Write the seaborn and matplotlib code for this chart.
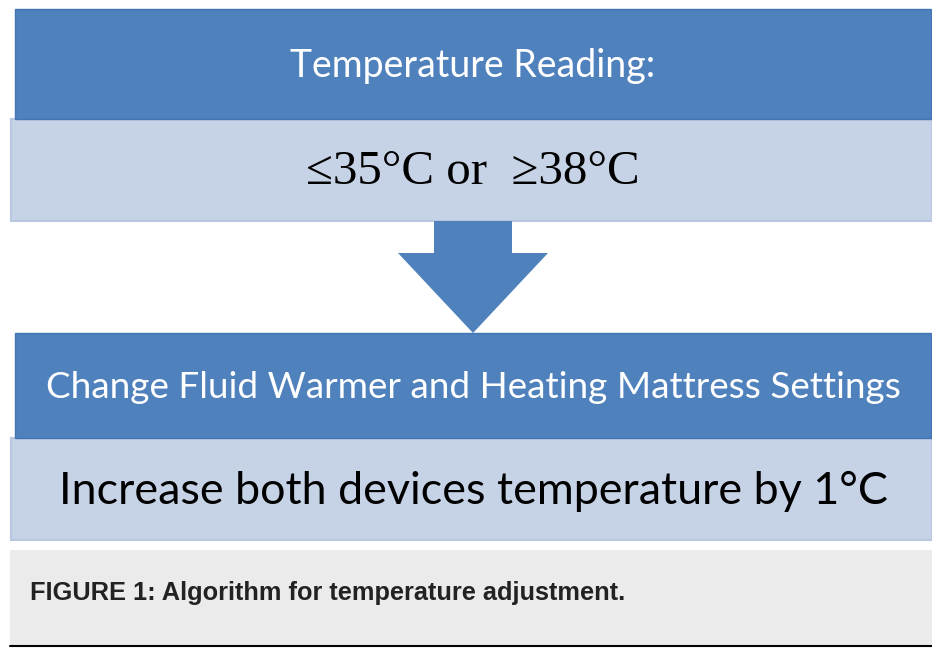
import matplotlib
matplotlib.use("Agg")
import matplotlib.pyplot as plt
import seaborn as sns
from matplotlib.patches import Rectangle, Polygon

sns.set_theme(style="white")

# Text content
header_texts = ["Temperature Reading:", "Change Fluid Warmer and Heating Mattress Settings"]
body_texts = ["\u226435\u00b0C or  \u226538\u00b0C", "Increase both devices temperature by 1\u00b0C"]
caption = "FIGURE 1: Algorithm for temperature adjustment."

DARK = "#4f81bd"
DARK_EDGE = "#4475b3"
LIGHT = "#c6d2e5"
LIGHT_EDGE = "#b9c7df"
CAPTION_BG = "#ebebeb"

W, H = 932, 648
fig = plt.figure(figsize=(W / 100, H / 100), dpi=100)
ax = fig.add_axes([0, 0, 1, 1])
ax.set_xlim(0, W)
ax.set_ylim(H, 0)
ax.axis("off")

# Blocks: (header y0, y1), (body y0, y1)
blocks = [((9, 119), (119, 221)), ((333, 438), (438, 540))]
header_sizes = [27, 26.6]
body_fonts = [("Liberation Serif", 35.3), ("Lato", 32.3)]

for i, ((hy0, hy1), (by0, by1)) in enumerate(blocks):
    ax.add_patch(Rectangle((11, by0), 921, by1 - by0, facecolor=LIGHT,
                           edgecolor=LIGHT_EDGE, lw=1.5, zorder=1))
    ax.add_patch(Rectangle((15, hy0), 916, hy1 - hy0, facecolor=DARK,
                           edgecolor=DARK_EDGE, lw=1, zorder=2))
    ax.text(473, (hy0 + hy1) / 2 + 2, header_texts[i], color="white",
            fontsize=header_sizes[i], family="Lato", ha="center", va="center", zorder=3)
    fam, fs = body_fonts[i]
    ax.text(473, (by0 + by1) / 2 + 2.5, body_texts[i], color="black",
            fontsize=fs, family=fam, ha="center", va="center", zorder=3)

# Arrow
arrow = [(434, 221), (512, 221), (512, 253), (548, 253), (473, 333),
         (398, 253), (434, 253)]
ax.add_patch(Polygon(arrow, closed=True, facecolor=DARK, edgecolor="none", zorder=2))

# Caption panel
ax.add_patch(Rectangle((10, 550), 922, 96, facecolor=CAPTION_BG, edgecolor="none", zorder=1))
ax.plot([10, 932], [646, 646], color="black", lw=1.5, zorder=2)
ax.text(30, 593, caption, color="#222222", fontsize=18.3, family="Liberation Sans",
        fontweight="bold", ha="left", va="center", zorder=3)

fig.savefig("out.png", dpi=100, facecolor="white")
